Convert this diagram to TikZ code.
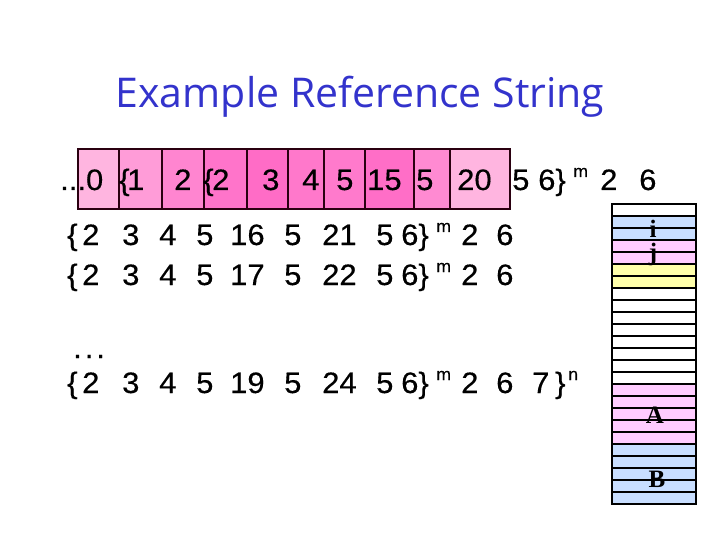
\documentclass[tikz,border=0pt]{standalone}
\usepackage{fontspec}
\setmainfont{Liberation Sans}
\newfontfamily\numfont[FakeStretch=1.05,FakeBold=0.4]{Liberation Sans}
\newfontfamily\titlefont{Open Sans}
\newfontfamily\serifb{Liberation Serif}
\definecolor{titleblue}{HTML}{3333CC}
\definecolor{edge}{HTML}{2A0010}
\definecolor{pA}{HTML}{FFB5E0}
\definecolor{pB}{HTML}{FF9CD8}
\definecolor{pC}{HTML}{FF85D0}
\definecolor{pD}{HTML}{FF74CA}
\definecolor{pE}{HTML}{FF6CC6}
\definecolor{pF}{HTML}{FF78CB}
\definecolor{pG}{HTML}{FF7ACC}
\definecolor{pH}{HTML}{FF6EC7}
\definecolor{pI}{HTML}{FF8AD2}
\definecolor{cblue}{HTML}{C8DEFF}
\definecolor{cpink}{HTML}{FFCCFF}
\definecolor{cyellow}{HTML}{FFFFAA}
\begin{document}
\begin{tikzpicture}[x=1pt,y=-1pt,
  tok/.style={anchor=base west,inner sep=0pt,font=\numfont\fontsize{29.5}{31}\selectfont},
  suptok/.style={anchor=base west,inner sep=0pt,font=\numfont\fontsize{17}{19}\selectfont},
  boxst/.style={draw=edge,line width=1.5pt},
  colline/.style={draw=black,line width=1.6pt},
  collabel/.style={inner sep=0pt,anchor=base,font=\serifb\bfseries\fontsize{25}{27}\selectfont}]
\useasboundingbox (0,0) rectangle (720,540);
% title
\node[anchor=base,inner sep=0pt,text=titleblue,font=\titlefont\fontsize{41}{45}\selectfont] (title) at (360,108) {Example Reference String};
% boxes of row 1
\foreach \xa/\xb/\c in {78/119/pA,119/162/pB,162/204/pC,204/247/pD,247/288/pE,288/324/pF,324/365/pG,365/414/pH,414/450/pI,450/510/pA}
  \fill[\c] (\xa,149) rectangle (\xb,209);
\foreach \xa/\xb in {78/119,119/162,162/204,204/247,247/288,288/324,324/365,365/414,414/450,450/510}
  \draw[boxst] (\xa,149) rectangle (\xb,209);
% row 1 text
\foreach \x/\t [count=\i] in {60/{...0},119/\{,127/1,174/2,203/\{,212/2,262/3,302/4,336/5,367/15,416/5,457/20,512/5,538/6\},600/2,639/6}
  \node[tok] (ra\i) at (\x,190) {\t};
\node[suptok] (ram) at (573,177) {m};
% rows 2 to 4
\foreach \y/\p/\q/\r in {245/16/21/b,285/17/22/c,393/19/24/d}{
  \foreach \x/\t [count=\i] in {67/\{,82/2,122/3,159/4,196/5,230/\p,284/5,322/\q,376/5,401/6\},461/2,496/6}
    \node[tok] (r\r\i) at (\x,\y) {\t};
  \node[suptok] (r\r m) at (436,\y-13) {m};
}
\node[tok] (rd7) at (532,393) {7};
\node[tok] (rdb) at (555,393) {\}};
\node[suptok] (rdn) at (568,380) {n};
\node[tok] (dots) at (73,358) {.\hspace{3pt}.\hspace{3pt}.};
% column
\fill[cblue] (612,216) rectangle (696,240);
\fill[cpink] (612,240) rectangle (696,264);
\fill[cyellow] (612,264) rectangle (696,288);
\fill[cpink] (612,384) rectangle (696,444);
\fill[cblue] (612,444) rectangle (696,504);
\foreach \k in {1,...,24}
  \draw[colline] (612,204+12*\k) -- (696,204+12*\k);
\draw[colline] (612,204) rectangle (696,504);
\node[collabel] (li) at (653,237) {i};
\node[collabel] (lj) at (653,260) {j};
\node[collabel] (lA) at (655,423) {A};
\node[collabel] (lB) at (657,487) {B};
\end{tikzpicture}
\end{document}
